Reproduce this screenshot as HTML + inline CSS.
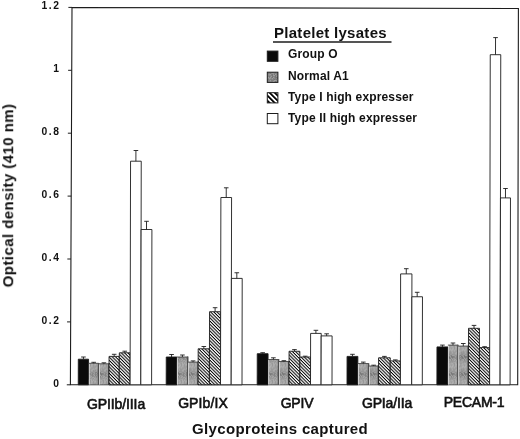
<!DOCTYPE html><html><head><meta charset="utf-8"><title>chart</title><style>
html,body{margin:0;padding:0;background:#fff;}
body{width:520px;height:439px;position:relative;overflow:hidden;font-family:"Liberation Sans",sans-serif;color:#111;}
.t{position:absolute;white-space:nowrap;line-height:1;will-change:transform;}
.yt{font-weight:bold;font-size:10.3px;letter-spacing:1.6px;text-align:right;width:60.6px;left:0;}
.xl{font-size:14px;transform:translateX(-50%);-webkit-text-stroke:0.6px #111;}
.lg{font-weight:bold;font-size:12px;letter-spacing:0.15px;left:287.8px;}
</style></head><body>
<svg width="520" height="439" viewBox="0 0 520 439" style="position:absolute;left:0;top:0">
<defs>
<pattern id="hat" width="2.3" height="2.3" patternUnits="userSpaceOnUse" patternTransform="rotate(45)"><rect width="2.3" height="2.3" fill="#fff"/><rect width="2.3" height="1.0" fill="#000"/></pattern>
<pattern id="gr" width="13" height="17" patternUnits="userSpaceOnUse"><rect x="0" y="0" width="1" height="1" fill="#949494"/><rect x="0" y="1" width="1" height="1" fill="#848484"/><rect x="0" y="2" width="1" height="1" fill="#9e9e9e"/><rect x="0" y="3" width="1" height="1" fill="#848484"/><rect x="0" y="4" width="1" height="1" fill="#848484"/><rect x="0" y="5" width="1" height="1" fill="#949494"/><rect x="0" y="6" width="1" height="1" fill="#949494"/><rect x="0" y="7" width="1" height="1" fill="#9e9e9e"/><rect x="0" y="8" width="1" height="1" fill="#848484"/><rect x="0" y="9" width="1" height="1" fill="#9e9e9e"/><rect x="0" y="10" width="1" height="1" fill="#808080"/><rect x="0" y="11" width="1" height="1" fill="#808080"/><rect x="0" y="12" width="1" height="1" fill="#848484"/><rect x="0" y="13" width="1" height="1" fill="#9e9e9e"/><rect x="0" y="14" width="1" height="1" fill="#949494"/><rect x="0" y="15" width="1" height="1" fill="#888888"/><rect x="0" y="16" width="1" height="1" fill="#9e9e9e"/><rect x="1" y="0" width="1" height="1" fill="#848484"/><rect x="1" y="1" width="1" height="1" fill="#808080"/><rect x="1" y="2" width="1" height="1" fill="#767676"/><rect x="1" y="3" width="1" height="1" fill="#949494"/><rect x="1" y="4" width="1" height="1" fill="#8a8a8a"/><rect x="1" y="5" width="1" height="1" fill="#808080"/><rect x="1" y="6" width="1" height="1" fill="#767676"/><rect x="1" y="7" width="1" height="1" fill="#9e9e9e"/><rect x="1" y="8" width="1" height="1" fill="#848484"/><rect x="1" y="9" width="1" height="1" fill="#888888"/><rect x="1" y="10" width="1" height="1" fill="#888888"/><rect x="1" y="11" width="1" height="1" fill="#767676"/><rect x="1" y="12" width="1" height="1" fill="#9e9e9e"/><rect x="1" y="13" width="1" height="1" fill="#949494"/><rect x="1" y="14" width="1" height="1" fill="#949494"/><rect x="1" y="15" width="1" height="1" fill="#888888"/><rect x="1" y="16" width="1" height="1" fill="#888888"/><rect x="2" y="0" width="1" height="1" fill="#9e9e9e"/><rect x="2" y="1" width="1" height="1" fill="#888888"/><rect x="2" y="2" width="1" height="1" fill="#808080"/><rect x="2" y="3" width="1" height="1" fill="#9e9e9e"/><rect x="2" y="4" width="1" height="1" fill="#767676"/><rect x="2" y="5" width="1" height="1" fill="#848484"/><rect x="2" y="6" width="1" height="1" fill="#9e9e9e"/><rect x="2" y="7" width="1" height="1" fill="#767676"/><rect x="2" y="8" width="1" height="1" fill="#767676"/><rect x="2" y="9" width="1" height="1" fill="#767676"/><rect x="2" y="10" width="1" height="1" fill="#808080"/><rect x="2" y="11" width="1" height="1" fill="#808080"/><rect x="2" y="12" width="1" height="1" fill="#9e9e9e"/><rect x="2" y="13" width="1" height="1" fill="#767676"/><rect x="2" y="14" width="1" height="1" fill="#848484"/><rect x="2" y="15" width="1" height="1" fill="#949494"/><rect x="2" y="16" width="1" height="1" fill="#8a8a8a"/><rect x="3" y="0" width="1" height="1" fill="#949494"/><rect x="3" y="1" width="1" height="1" fill="#9e9e9e"/><rect x="3" y="2" width="1" height="1" fill="#848484"/><rect x="3" y="3" width="1" height="1" fill="#808080"/><rect x="3" y="4" width="1" height="1" fill="#9e9e9e"/><rect x="3" y="5" width="1" height="1" fill="#808080"/><rect x="3" y="6" width="1" height="1" fill="#888888"/><rect x="3" y="7" width="1" height="1" fill="#8a8a8a"/><rect x="3" y="8" width="1" height="1" fill="#949494"/><rect x="3" y="9" width="1" height="1" fill="#767676"/><rect x="3" y="10" width="1" height="1" fill="#888888"/><rect x="3" y="11" width="1" height="1" fill="#767676"/><rect x="3" y="12" width="1" height="1" fill="#949494"/><rect x="3" y="13" width="1" height="1" fill="#888888"/><rect x="3" y="14" width="1" height="1" fill="#8a8a8a"/><rect x="3" y="15" width="1" height="1" fill="#949494"/><rect x="3" y="16" width="1" height="1" fill="#9e9e9e"/><rect x="4" y="0" width="1" height="1" fill="#848484"/><rect x="4" y="1" width="1" height="1" fill="#767676"/><rect x="4" y="2" width="1" height="1" fill="#888888"/><rect x="4" y="3" width="1" height="1" fill="#8a8a8a"/><rect x="4" y="4" width="1" height="1" fill="#8a8a8a"/><rect x="4" y="5" width="1" height="1" fill="#848484"/><rect x="4" y="6" width="1" height="1" fill="#808080"/><rect x="4" y="7" width="1" height="1" fill="#9e9e9e"/><rect x="4" y="8" width="1" height="1" fill="#8a8a8a"/><rect x="4" y="9" width="1" height="1" fill="#767676"/><rect x="4" y="10" width="1" height="1" fill="#767676"/><rect x="4" y="11" width="1" height="1" fill="#9e9e9e"/><rect x="4" y="12" width="1" height="1" fill="#848484"/><rect x="4" y="13" width="1" height="1" fill="#767676"/><rect x="4" y="14" width="1" height="1" fill="#949494"/><rect x="4" y="15" width="1" height="1" fill="#767676"/><rect x="4" y="16" width="1" height="1" fill="#848484"/><rect x="5" y="0" width="1" height="1" fill="#8a8a8a"/><rect x="5" y="1" width="1" height="1" fill="#949494"/><rect x="5" y="2" width="1" height="1" fill="#767676"/><rect x="5" y="3" width="1" height="1" fill="#767676"/><rect x="5" y="4" width="1" height="1" fill="#848484"/><rect x="5" y="5" width="1" height="1" fill="#888888"/><rect x="5" y="6" width="1" height="1" fill="#767676"/><rect x="5" y="7" width="1" height="1" fill="#808080"/><rect x="5" y="8" width="1" height="1" fill="#808080"/><rect x="5" y="9" width="1" height="1" fill="#767676"/><rect x="5" y="10" width="1" height="1" fill="#949494"/><rect x="5" y="11" width="1" height="1" fill="#949494"/><rect x="5" y="12" width="1" height="1" fill="#888888"/><rect x="5" y="13" width="1" height="1" fill="#949494"/><rect x="5" y="14" width="1" height="1" fill="#949494"/><rect x="5" y="15" width="1" height="1" fill="#767676"/><rect x="5" y="16" width="1" height="1" fill="#9e9e9e"/><rect x="6" y="0" width="1" height="1" fill="#888888"/><rect x="6" y="1" width="1" height="1" fill="#808080"/><rect x="6" y="2" width="1" height="1" fill="#848484"/><rect x="6" y="3" width="1" height="1" fill="#888888"/><rect x="6" y="4" width="1" height="1" fill="#8a8a8a"/><rect x="6" y="5" width="1" height="1" fill="#8a8a8a"/><rect x="6" y="6" width="1" height="1" fill="#767676"/><rect x="6" y="7" width="1" height="1" fill="#8a8a8a"/><rect x="6" y="8" width="1" height="1" fill="#8a8a8a"/><rect x="6" y="9" width="1" height="1" fill="#767676"/><rect x="6" y="10" width="1" height="1" fill="#949494"/><rect x="6" y="11" width="1" height="1" fill="#848484"/><rect x="6" y="12" width="1" height="1" fill="#767676"/><rect x="6" y="13" width="1" height="1" fill="#808080"/><rect x="6" y="14" width="1" height="1" fill="#808080"/><rect x="6" y="15" width="1" height="1" fill="#888888"/><rect x="6" y="16" width="1" height="1" fill="#767676"/><rect x="7" y="0" width="1" height="1" fill="#767676"/><rect x="7" y="1" width="1" height="1" fill="#767676"/><rect x="7" y="2" width="1" height="1" fill="#949494"/><rect x="7" y="3" width="1" height="1" fill="#848484"/><rect x="7" y="4" width="1" height="1" fill="#949494"/><rect x="7" y="5" width="1" height="1" fill="#808080"/><rect x="7" y="6" width="1" height="1" fill="#888888"/><rect x="7" y="7" width="1" height="1" fill="#9e9e9e"/><rect x="7" y="8" width="1" height="1" fill="#808080"/><rect x="7" y="9" width="1" height="1" fill="#949494"/><rect x="7" y="10" width="1" height="1" fill="#9e9e9e"/><rect x="7" y="11" width="1" height="1" fill="#808080"/><rect x="7" y="12" width="1" height="1" fill="#888888"/><rect x="7" y="13" width="1" height="1" fill="#848484"/><rect x="7" y="14" width="1" height="1" fill="#808080"/><rect x="7" y="15" width="1" height="1" fill="#949494"/><rect x="7" y="16" width="1" height="1" fill="#888888"/><rect x="8" y="0" width="1" height="1" fill="#949494"/><rect x="8" y="1" width="1" height="1" fill="#767676"/><rect x="8" y="2" width="1" height="1" fill="#949494"/><rect x="8" y="3" width="1" height="1" fill="#949494"/><rect x="8" y="4" width="1" height="1" fill="#808080"/><rect x="8" y="5" width="1" height="1" fill="#767676"/><rect x="8" y="6" width="1" height="1" fill="#8a8a8a"/><rect x="8" y="7" width="1" height="1" fill="#848484"/><rect x="8" y="8" width="1" height="1" fill="#848484"/><rect x="8" y="9" width="1" height="1" fill="#9e9e9e"/><rect x="8" y="10" width="1" height="1" fill="#8a8a8a"/><rect x="8" y="11" width="1" height="1" fill="#767676"/><rect x="8" y="12" width="1" height="1" fill="#808080"/><rect x="8" y="13" width="1" height="1" fill="#808080"/><rect x="8" y="14" width="1" height="1" fill="#949494"/><rect x="8" y="15" width="1" height="1" fill="#848484"/><rect x="8" y="16" width="1" height="1" fill="#9e9e9e"/><rect x="9" y="0" width="1" height="1" fill="#888888"/><rect x="9" y="1" width="1" height="1" fill="#9e9e9e"/><rect x="9" y="2" width="1" height="1" fill="#767676"/><rect x="9" y="3" width="1" height="1" fill="#767676"/><rect x="9" y="4" width="1" height="1" fill="#808080"/><rect x="9" y="5" width="1" height="1" fill="#808080"/><rect x="9" y="6" width="1" height="1" fill="#949494"/><rect x="9" y="7" width="1" height="1" fill="#8a8a8a"/><rect x="9" y="8" width="1" height="1" fill="#767676"/><rect x="9" y="9" width="1" height="1" fill="#848484"/><rect x="9" y="10" width="1" height="1" fill="#9e9e9e"/><rect x="9" y="11" width="1" height="1" fill="#8a8a8a"/><rect x="9" y="12" width="1" height="1" fill="#848484"/><rect x="9" y="13" width="1" height="1" fill="#8a8a8a"/><rect x="9" y="14" width="1" height="1" fill="#949494"/><rect x="9" y="15" width="1" height="1" fill="#767676"/><rect x="9" y="16" width="1" height="1" fill="#767676"/><rect x="10" y="0" width="1" height="1" fill="#767676"/><rect x="10" y="1" width="1" height="1" fill="#808080"/><rect x="10" y="2" width="1" height="1" fill="#9e9e9e"/><rect x="10" y="3" width="1" height="1" fill="#888888"/><rect x="10" y="4" width="1" height="1" fill="#808080"/><rect x="10" y="5" width="1" height="1" fill="#767676"/><rect x="10" y="6" width="1" height="1" fill="#9e9e9e"/><rect x="10" y="7" width="1" height="1" fill="#8a8a8a"/><rect x="10" y="8" width="1" height="1" fill="#8a8a8a"/><rect x="10" y="9" width="1" height="1" fill="#9e9e9e"/><rect x="10" y="10" width="1" height="1" fill="#949494"/><rect x="10" y="11" width="1" height="1" fill="#808080"/><rect x="10" y="12" width="1" height="1" fill="#9e9e9e"/><rect x="10" y="13" width="1" height="1" fill="#949494"/><rect x="10" y="14" width="1" height="1" fill="#848484"/><rect x="10" y="15" width="1" height="1" fill="#9e9e9e"/><rect x="10" y="16" width="1" height="1" fill="#808080"/><rect x="11" y="0" width="1" height="1" fill="#848484"/><rect x="11" y="1" width="1" height="1" fill="#949494"/><rect x="11" y="2" width="1" height="1" fill="#808080"/><rect x="11" y="3" width="1" height="1" fill="#888888"/><rect x="11" y="4" width="1" height="1" fill="#808080"/><rect x="11" y="5" width="1" height="1" fill="#8a8a8a"/><rect x="11" y="6" width="1" height="1" fill="#808080"/><rect x="11" y="7" width="1" height="1" fill="#848484"/><rect x="11" y="8" width="1" height="1" fill="#9e9e9e"/><rect x="11" y="9" width="1" height="1" fill="#808080"/><rect x="11" y="10" width="1" height="1" fill="#888888"/><rect x="11" y="11" width="1" height="1" fill="#808080"/><rect x="11" y="12" width="1" height="1" fill="#808080"/><rect x="11" y="13" width="1" height="1" fill="#888888"/><rect x="11" y="14" width="1" height="1" fill="#888888"/><rect x="11" y="15" width="1" height="1" fill="#9e9e9e"/><rect x="11" y="16" width="1" height="1" fill="#808080"/><rect x="12" y="0" width="1" height="1" fill="#888888"/><rect x="12" y="1" width="1" height="1" fill="#949494"/><rect x="12" y="2" width="1" height="1" fill="#949494"/><rect x="12" y="3" width="1" height="1" fill="#9e9e9e"/><rect x="12" y="4" width="1" height="1" fill="#767676"/><rect x="12" y="5" width="1" height="1" fill="#949494"/><rect x="12" y="6" width="1" height="1" fill="#767676"/><rect x="12" y="7" width="1" height="1" fill="#767676"/><rect x="12" y="8" width="1" height="1" fill="#767676"/><rect x="12" y="9" width="1" height="1" fill="#767676"/><rect x="12" y="10" width="1" height="1" fill="#9e9e9e"/><rect x="12" y="11" width="1" height="1" fill="#8a8a8a"/><rect x="12" y="12" width="1" height="1" fill="#808080"/><rect x="12" y="13" width="1" height="1" fill="#888888"/><rect x="12" y="14" width="1" height="1" fill="#888888"/><rect x="12" y="15" width="1" height="1" fill="#949494"/><rect x="12" y="16" width="1" height="1" fill="#8a8a8a"/></pattern>
</defs>
<path d="M72 7.5 L518.4 8.5 L517.7 384.8 L70.4 384.8 Z" fill="none" stroke="#1c1c1c" stroke-width="1.1"/>
<line x1="66.80" x2="70.40" y1="384.80" y2="384.80" stroke="#1c1c1c" stroke-width="1"/>
<line x1="67.06" x2="70.66" y1="321.90" y2="321.90" stroke="#1c1c1c" stroke-width="1"/>
<line x1="67.33" x2="70.93" y1="259.00" y2="259.00" stroke="#1c1c1c" stroke-width="1"/>
<line x1="67.59" x2="71.19" y1="196.10" y2="196.10" stroke="#1c1c1c" stroke-width="1"/>
<line x1="67.86" x2="71.46" y1="133.20" y2="133.20" stroke="#1c1c1c" stroke-width="1"/>
<line x1="68.12" x2="71.72" y1="70.30" y2="70.30" stroke="#1c1c1c" stroke-width="1"/>
<line x1="68.39" x2="71.99" y1="7.40" y2="7.40" stroke="#1c1c1c" stroke-width="1"/>
<g transform="matrix(1 0 -0.002 1 0.77 0)">
<rect x="78.25" y="359.20" width="10.25" height="25.60" fill="#0a0a0a" stroke="#1c1c1c" stroke-width="0.9"/>
<path d="M83.38 359.20 V357.00 M81.08 357.00 H85.67" stroke="#1c1c1c" stroke-width="0.9" fill="none"/>
<rect x="88.90" y="363.30" width="0.8" height="21.50" fill="#dcdcdc"/>
<rect x="89.60" y="363.30" width="8.75" height="21.50" fill="url(#gr)"/>
<path d="M88.50 363.30 H98.75" stroke="#444" stroke-width="0.9" fill="none"/>
<path d="M98.55 362.90 V384.80" stroke="#505050" stroke-width="1.5" fill="none"/>
<path d="M93.62 363.30 V362.30 M91.33 362.30 H95.92" stroke="#1c1c1c" stroke-width="0.9" fill="none"/>
<rect x="99.15" y="363.80" width="0.8" height="21.00" fill="#dcdcdc"/>
<rect x="99.85" y="363.80" width="8.75" height="21.00" fill="url(#gr)"/>
<path d="M98.75 363.80 H109.00" stroke="#444" stroke-width="0.9" fill="none"/>
<path d="M108.80 363.40 V384.80" stroke="#505050" stroke-width="1.5" fill="none"/>
<path d="M103.88 363.80 V362.80 M101.58 362.80 H106.17" stroke="#1c1c1c" stroke-width="0.9" fill="none"/>
<rect x="109.00" y="356.40" width="10.25" height="28.40" fill="url(#hat)" stroke="#1c1c1c" stroke-width="0.9"/>
<path d="M114.12 356.40 V354.30 M111.83 354.30 H116.42" stroke="#1c1c1c" stroke-width="0.9" fill="none"/>
<rect x="119.25" y="352.80" width="10.85" height="32.00" fill="url(#hat)" stroke="#1c1c1c" stroke-width="0.9"/>
<path d="M124.67 352.80 V351.20 M122.38 351.20 H126.97" stroke="#1c1c1c" stroke-width="0.9" fill="none"/>
<rect x="130.10" y="161.20" width="10.70" height="223.60" fill="#fff" stroke="#1c1c1c" stroke-width="0.9"/>
<path d="M135.45 161.20 V150.50 M133.15 150.50 H137.75" stroke="#1c1c1c" stroke-width="0.9" fill="none"/>
<rect x="140.80" y="229.50" width="10.80" height="155.30" fill="#fff" stroke="#1c1c1c" stroke-width="0.9"/>
<path d="M146.20 229.50 V221.30 M143.90 221.30 H148.50" stroke="#1c1c1c" stroke-width="0.9" fill="none"/>
<rect x="166.20" y="357.00" width="10.60" height="27.80" fill="#0a0a0a" stroke="#1c1c1c" stroke-width="0.9"/>
<path d="M171.50 357.00 V354.50 M169.20 354.50 H173.80" stroke="#1c1c1c" stroke-width="0.9" fill="none"/>
<rect x="177.20" y="357.00" width="0.8" height="27.80" fill="#dcdcdc"/>
<rect x="177.90" y="357.00" width="9.60" height="27.80" fill="url(#gr)"/>
<path d="M176.80 357.00 H187.90" stroke="#444" stroke-width="0.9" fill="none"/>
<path d="M187.70 356.60 V384.80" stroke="#505050" stroke-width="1.5" fill="none"/>
<path d="M182.35 357.00 V355.00 M180.05 355.00 H184.65" stroke="#1c1c1c" stroke-width="0.9" fill="none"/>
<rect x="188.30" y="362.10" width="0.8" height="22.70" fill="#dcdcdc"/>
<rect x="189.00" y="362.10" width="8.70" height="22.70" fill="url(#gr)"/>
<path d="M187.90 362.10 H198.10" stroke="#444" stroke-width="0.9" fill="none"/>
<path d="M197.90 361.70 V384.80" stroke="#505050" stroke-width="1.5" fill="none"/>
<path d="M193.00 362.10 V360.90 M190.70 360.90 H195.30" stroke="#1c1c1c" stroke-width="0.9" fill="none"/>
<rect x="198.10" y="348.80" width="11.30" height="36.00" fill="url(#hat)" stroke="#1c1c1c" stroke-width="0.9"/>
<path d="M203.75 348.80 V346.50 M201.45 346.50 H206.05" stroke="#1c1c1c" stroke-width="0.9" fill="none"/>
<rect x="209.40" y="311.70" width="11.10" height="73.10" fill="url(#hat)" stroke="#1c1c1c" stroke-width="0.9"/>
<path d="M214.95 311.70 V307.70 M212.65 307.70 H217.25" stroke="#1c1c1c" stroke-width="0.9" fill="none"/>
<rect x="220.50" y="197.50" width="10.70" height="187.30" fill="#fff" stroke="#1c1c1c" stroke-width="0.9"/>
<path d="M225.85 197.50 V187.80 M223.55 187.80 H228.15" stroke="#1c1c1c" stroke-width="0.9" fill="none"/>
<rect x="231.20" y="278.40" width="10.80" height="106.40" fill="#fff" stroke="#1c1c1c" stroke-width="0.9"/>
<path d="M236.60 278.40 V272.75 M234.30 272.75 H238.90" stroke="#1c1c1c" stroke-width="0.9" fill="none"/>
<rect x="257.20" y="353.70" width="10.80" height="31.10" fill="#0a0a0a" stroke="#1c1c1c" stroke-width="0.9"/>
<path d="M262.60 353.70 V352.70 M260.30 352.70 H264.90" stroke="#1c1c1c" stroke-width="0.9" fill="none"/>
<rect x="268.40" y="359.50" width="0.8" height="25.30" fill="#dcdcdc"/>
<rect x="269.10" y="359.50" width="9.20" height="25.30" fill="url(#gr)"/>
<path d="M268.00 359.50 H278.70" stroke="#444" stroke-width="0.9" fill="none"/>
<path d="M278.50 359.10 V384.80" stroke="#505050" stroke-width="1.5" fill="none"/>
<path d="M273.35 359.50 V357.80 M271.05 357.80 H275.65" stroke="#1c1c1c" stroke-width="0.9" fill="none"/>
<rect x="279.10" y="361.50" width="0.8" height="23.30" fill="#dcdcdc"/>
<rect x="279.80" y="361.50" width="8.80" height="23.30" fill="url(#gr)"/>
<path d="M278.70 361.50 H289.00" stroke="#444" stroke-width="0.9" fill="none"/>
<path d="M288.80 361.10 V384.80" stroke="#505050" stroke-width="1.5" fill="none"/>
<path d="M283.85 361.50 V360.70 M281.55 360.70 H286.15" stroke="#1c1c1c" stroke-width="0.9" fill="none"/>
<rect x="289.00" y="351.25" width="10.80" height="33.55" fill="url(#hat)" stroke="#1c1c1c" stroke-width="0.9"/>
<path d="M294.40 351.25 V349.60 M292.10 349.60 H296.70" stroke="#1c1c1c" stroke-width="0.9" fill="none"/>
<rect x="299.80" y="357.00" width="10.70" height="27.80" fill="url(#hat)" stroke="#1c1c1c" stroke-width="0.9"/>
<path d="M305.15 357.00 V356.20 M302.85 356.20 H307.45" stroke="#1c1c1c" stroke-width="0.9" fill="none"/>
<rect x="310.50" y="333.40" width="10.60" height="51.40" fill="#fff" stroke="#1c1c1c" stroke-width="0.9"/>
<path d="M315.80 333.40 V330.30 M313.50 330.30 H318.10" stroke="#1c1c1c" stroke-width="0.9" fill="none"/>
<rect x="321.10" y="335.90" width="10.90" height="48.90" fill="#fff" stroke="#1c1c1c" stroke-width="0.9"/>
<path d="M326.55 335.90 V333.80 M324.25 333.80 H328.85" stroke="#1c1c1c" stroke-width="0.9" fill="none"/>
<rect x="347.00" y="356.40" width="10.80" height="28.40" fill="#0a0a0a" stroke="#1c1c1c" stroke-width="0.9"/>
<path d="M352.40 356.40 V354.30 M350.10 354.30 H354.70" stroke="#1c1c1c" stroke-width="0.9" fill="none"/>
<rect x="358.20" y="363.55" width="0.8" height="21.25" fill="#dcdcdc"/>
<rect x="358.90" y="363.55" width="9.40" height="21.25" fill="url(#gr)"/>
<path d="M357.80 363.55 H368.70" stroke="#444" stroke-width="0.9" fill="none"/>
<path d="M368.50 363.15 V384.80" stroke="#505050" stroke-width="1.5" fill="none"/>
<path d="M363.25 363.55 V362.10 M360.95 362.10 H365.55" stroke="#1c1c1c" stroke-width="0.9" fill="none"/>
<rect x="369.10" y="366.00" width="0.8" height="18.80" fill="#dcdcdc"/>
<rect x="369.80" y="366.00" width="8.30" height="18.80" fill="url(#gr)"/>
<path d="M368.70 366.00 H378.50" stroke="#444" stroke-width="0.9" fill="none"/>
<path d="M378.30 365.60 V384.80" stroke="#505050" stroke-width="1.5" fill="none"/>
<path d="M373.60 366.00 V365.20 M371.30 365.20 H375.90" stroke="#1c1c1c" stroke-width="0.9" fill="none"/>
<rect x="378.50" y="357.80" width="11.70" height="27.00" fill="url(#hat)" stroke="#1c1c1c" stroke-width="0.9"/>
<path d="M384.35 357.80 V356.40 M382.05 356.40 H386.65" stroke="#1c1c1c" stroke-width="0.9" fill="none"/>
<rect x="390.20" y="360.90" width="10.20" height="23.90" fill="url(#hat)" stroke="#1c1c1c" stroke-width="0.9"/>
<path d="M395.30 360.90 V359.90 M393.00 359.90 H397.60" stroke="#1c1c1c" stroke-width="0.9" fill="none"/>
<rect x="400.40" y="273.90" width="11.30" height="110.90" fill="#fff" stroke="#1c1c1c" stroke-width="0.9"/>
<path d="M406.05 273.90 V268.70 M403.75 268.70 H408.35" stroke="#1c1c1c" stroke-width="0.9" fill="none"/>
<rect x="411.70" y="296.75" width="10.60" height="88.05" fill="#fff" stroke="#1c1c1c" stroke-width="0.9"/>
<path d="M417.00 296.75 V292.30 M414.70 292.30 H419.30" stroke="#1c1c1c" stroke-width="0.9" fill="none"/>
<rect x="436.90" y="346.90" width="10.90" height="37.90" fill="#0a0a0a" stroke="#1c1c1c" stroke-width="0.9"/>
<path d="M442.35 346.90 V345.10 M440.05 345.10 H444.65" stroke="#1c1c1c" stroke-width="0.9" fill="none"/>
<rect x="448.20" y="345.10" width="0.8" height="39.70" fill="#dcdcdc"/>
<rect x="448.90" y="345.10" width="8.70" height="39.70" fill="url(#gr)"/>
<path d="M447.80 345.10 H458.00" stroke="#444" stroke-width="0.9" fill="none"/>
<path d="M457.80 344.70 V384.80" stroke="#505050" stroke-width="1.5" fill="none"/>
<path d="M452.90 345.10 V343.00 M450.60 343.00 H455.20" stroke="#1c1c1c" stroke-width="0.9" fill="none"/>
<rect x="458.40" y="346.10" width="0.8" height="38.70" fill="#dcdcdc"/>
<rect x="459.10" y="346.10" width="8.90" height="38.70" fill="url(#gr)"/>
<path d="M458.00 346.10 H468.40" stroke="#444" stroke-width="0.9" fill="none"/>
<path d="M468.20 345.70 V384.80" stroke="#505050" stroke-width="1.5" fill="none"/>
<path d="M463.20 346.10 V343.50 M460.90 343.50 H465.50" stroke="#1c1c1c" stroke-width="0.9" fill="none"/>
<rect x="468.40" y="328.30" width="11.00" height="56.50" fill="url(#hat)" stroke="#1c1c1c" stroke-width="0.9"/>
<path d="M473.90 328.30 V325.40 M471.60 325.40 H476.20" stroke="#1c1c1c" stroke-width="0.9" fill="none"/>
<rect x="479.40" y="347.60" width="10.20" height="37.20" fill="url(#hat)" stroke="#1c1c1c" stroke-width="0.9"/>
<path d="M484.50 347.60 V346.70 M482.20 346.70 H486.80" stroke="#1c1c1c" stroke-width="0.9" fill="none"/>
<rect x="489.60" y="54.70" width="10.50" height="330.10" fill="#fff" stroke="#1c1c1c" stroke-width="0.9"/>
<path d="M494.85 54.70 V37.60 M492.55 37.60 H497.15" stroke="#1c1c1c" stroke-width="0.9" fill="none"/>
<rect x="500.10" y="197.90" width="10.00" height="186.90" fill="#fff" stroke="#1c1c1c" stroke-width="0.9"/>
<path d="M505.10 197.90 V188.50 M502.80 188.50 H507.40" stroke="#1c1c1c" stroke-width="0.9" fill="none"/>
</g>
<defs><pattern id="hat2" width="3.6" height="3.6" patternUnits="userSpaceOnUse" patternTransform="rotate(45)"><rect width="3.6" height="3.6" fill="#fff"/><rect width="3.6" height="1.8" fill="#000"/></pattern></defs>
<rect x="267.3" y="51.1" width="10.6" height="10.2" fill="#0a0a0a" stroke="#1c1c1c" stroke-width="1"/>
<rect x="267.3" y="72.2" width="10.6" height="10.2" fill="url(#gr)" stroke="#1c1c1c" stroke-width="1"/>
<rect x="267.3" y="92.7" width="10.6" height="10.2" fill="url(#hat2)" stroke="#1c1c1c" stroke-width="1"/>
<rect x="267.3" y="113.5" width="10.6" height="10.2" fill="#fff" stroke="#1c1c1c" stroke-width="1"/>
<line x1="273" x2="391.5" y1="42" y2="42" stroke="#1c1c1c" stroke-width="1.3"/>
</svg>
<div class="t yt" id="yt0" style="top:378.8px">0</div>
<div class="t yt" id="yt1" style="top:315.9px">0.2</div>
<div class="t yt" id="yt2" style="top:253.0px">0.4</div>
<div class="t yt" id="yt3" style="top:190.1px">0.6</div>
<div class="t yt" id="yt4" style="top:127.2px">0.8</div>
<div class="t yt" id="yt5" style="top:64.3px">1</div>
<div class="t yt" id="yt6" style="top:1.4px">1.2</div>
<div class="t xl" id="xl0" style="left:116.2px;top:397.05px;letter-spacing:-0.1px">GPIIb/IIIa</div>
<div class="t xl" id="xl1" style="left:202.9px;top:396.15px;letter-spacing:0.1px">GPIb/IX</div>
<div class="t xl" id="xl2" style="left:297.3px;top:396.05px;letter-spacing:-0.2px">GPIV</div>
<div class="t xl" id="xl3" style="left:386.7px;top:395.65px;letter-spacing:-0.15px">GPIa/IIa</div>
<div class="t xl" id="xl4" style="left:474.2px;top:395.4px;letter-spacing:-0.25px">PECAM-1</div>
<div class="t" id="xt" style="left:192.4px;top:420.9px;font-weight:bold;font-size:15px;letter-spacing:0.35px">Glycoproteins captured</div>
<div class="t" id="ytitle" style="left:0;top:0;font-weight:bold;font-size:15px;letter-spacing:0.43px;transform-origin:0 0;transform:translate(0.2px,287.3px) rotate(-90deg)">Optical density (410 nm)</div>
<div class="t" id="lt" style="left:273.8px;top:25.3px;font-weight:bold;font-size:15px;letter-spacing:0.28px">Platelet lysates</div>
<div class="t lg" id="lg0" style="top:48.4px">Group O</div>
<div class="t lg" id="lg1" style="top:69.6px">Normal A1</div>
<div class="t lg" id="lg2" style="top:90.8px">Type I high expresser</div>
<div class="t lg" id="lg3" style="top:111.9px">Type II high expresser</div>
</body></html>
